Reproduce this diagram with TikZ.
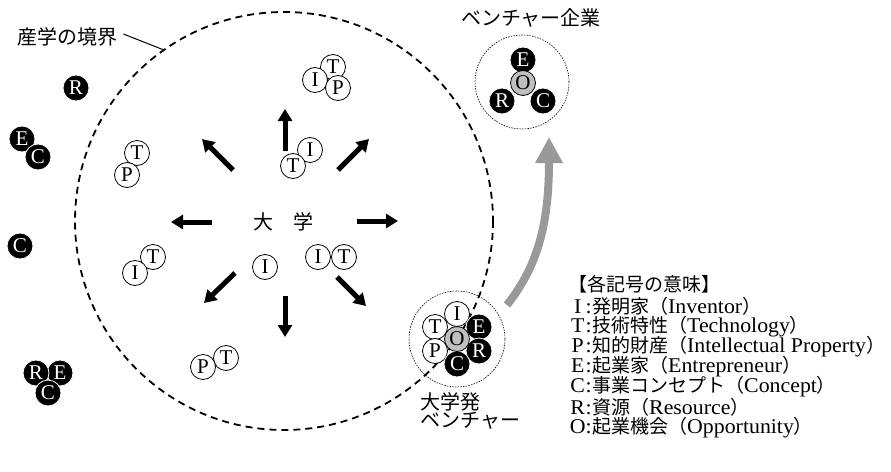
\documentclass[tikz,border=0pt]{standalone}
\usepackage{fontspec}
\setmainfont{Liberation Serif}
\newfontfamily\jp{Noto Sans CJK JP}
\newfontfamily\lat[FakeStretch=1.04]{Liberation Serif}
\usetikzlibrary{arrows.meta}
\begin{document}
\begin{tikzpicture}[x=1pt,y=-1pt,
  wc/.style={circle,draw=black,fill=white,line width=0.8pt,minimum size=25pt,inner sep=0pt,font=\fontsize{21}{21}\selectfont},
  bc/.style={circle,draw=white,fill=black,text=white,line width=0.8pt,minimum size=26pt,inner sep=0pt,font=\fontsize{21}{21}\selectfont},
  gc/.style={circle,draw=black,fill=black!25,line width=0.8pt,minimum size=25pt,inner sep=0pt,font=\fontsize{21}{21}\selectfont},
  jt/.style={font=\jp\fontsize{20}{20}\selectfont,inner sep=0pt},
  lg/.style={font=\lat\fontsize{21}{20}\selectfont,inner sep=0pt,anchor=west},
  dotc/.style={circle,draw=black,line width=0.6pt,dash pattern=on 1.5pt off 1.2pt,inner sep=0pt},
  bar/.style={line width=5pt,-{Triangle[length=12pt,width=14pt]}}
]
\useasboundingbox (0,0) rectangle (891,471);
\newcommand\jpl{\jp\fontsize{19}{19}\selectfont}
% boundary
\draw[line width=1.8pt,dash pattern=on 7pt off 5pt] (284,221) circle[radius=209];
\node[jt,anchor=west] (lbl) at (17,37) {産学の境界};
\coordinate (lblend) at (164,50);
\draw[line width=1pt] (lbl.east)++(6,-3) -- (lblend);

% outside resources
\node[bc] (r1) at (76,88) {R};
\node[bc] (e1) at (22,139) {E};
\node[bc] (c1) at (38,157) {C};
\node[bc] (c2) at (20,246) {C};
\node[bc] (e3) at (60,373) {E};
\node[bc] (r3) at (36,373) {R};
\node[bc] (c3) at (48,393) {C};

% inside university
\node[wc] (t1) at (137,153) {T};
\node[wc] (p1) at (127,175) {P};
\node[wc] (t2) at (333,67) {T};
\node[wc] (i2) at (315,80) {I};
\node[wc] (p2) at (338,88) {P};
\node[wc] (i3) at (310,150) {I};
\node[wc] (t3) at (293,166) {T};
\node[wc] (t4) at (153,257) {T};
\node[wc] (i4) at (135,273) {I};
\node[wc] (i5) at (265,267) {I};
\node[wc] (i6) at (318,257) {I};
\node[wc] (t6) at (344,257) {T};
\node[wc] (t7) at (226,358) {T};
\node[wc] (p7) at (203,367) {P};

\node[jt] (univ) at (283,222) {大　学};

% arrows
\coordinate (a1s) at (285,151); \coordinate (a1e) at (285,109);
\coordinate (a2s) at (233,170); \coordinate (a2e) at (202,139);
\coordinate (a3s) at (338,170); \coordinate (a3e) at (369,139);
\coordinate (a4s) at (212,222); \coordinate (a4e) at (171,222);
\coordinate (a5s) at (357,221); \coordinate (a5e) at (398,221);
\coordinate (a6s) at (235,273); \coordinate (a6e) at (204,303);
\coordinate (a7s) at (285,296); \coordinate (a7e) at (285,337);
\coordinate (a8s) at (337,277); \coordinate (a8e) at (366,306);
\foreach \k in {1,...,8} {\draw[bar] (a\k s) -- (a\k e);}

% university venture
\node[dotc,minimum size=96pt] (uv) at (457,339) {};
\node[wc] (uvi) at (457,314) {I};
\node[wc] (uvt) at (435,327) {T};
\node[wc] (uvp) at (435,351) {P};
\node[bc] (uve) at (479,327) {E};
\node[bc] (uvr) at (479,351) {R};
\node[bc] (uvc) at (457,364) {C};
\node[gc] (uvo) at (457,339) {O};
\node[jt,anchor=west] (uvl1) at (420,402) {大学発};
\node[jt,anchor=west] (uvl2) at (420,421) {ベンチャー};

% venture company
\node[dotc,minimum size=94pt] (vc) at (522,82) {};
\node[bc] (vce) at (523,60) {E};
\node[bc] (vcr) at (502,101) {R};
\node[bc] (vcc) at (543,101) {C};
\node[gc] (vco) at (523,83) {O};
\node[jt] (vcl) at (531,18) {ベンチャー企業};

% gray arrow
\coordinate (gs) at (507,305);
\coordinate (ge) at (549,137);
\draw[line width=8pt,color=black!40,-{Triangle[length=26pt,width=26pt]}] (gs) .. controls (536,268) and (549,228) .. (ge);

% legend
\node[lg] (l0) at (568,284) {\jpl 【各記号の意味】};
\node[lg] (l1) at (570,306) {\makebox[15pt]{I}\makebox[7pt]{:}{\jpl 発明家（}Inventor{\jpl ）}};
\node[lg] (l2) at (570,327) {\makebox[15pt]{T}\makebox[7pt]{:}{\jpl 技術特性（}Technology{\jpl ）}};
\node[lg] (l3) at (570,347) {\makebox[15pt]{P}\makebox[7pt]{:}{\jpl 知的財産（}Intellectual Property{\jpl ）}};
\node[lg] (l4) at (570,367) {\makebox[15pt]{E}\makebox[7pt]{:}{\jpl 起業家（}Entrepreneur{\jpl ）}};
\node[lg] (l5) at (570,387) {\makebox[15pt]{C}\makebox[7pt]{:}{\jpl 事業コンセプト（}Concept{\jpl ）}};
\node[lg] (l6) at (570,407) {\makebox[15pt]{R}\makebox[7pt]{:}{\jpl 資源（}Resource{\jpl ）}};
\node[lg] (l7) at (570,428) {\makebox[15pt]{O}\makebox[7pt]{:}{\jpl 起業機会（}Opportunity{\jpl ）}};
\end{tikzpicture}
\end{document}
